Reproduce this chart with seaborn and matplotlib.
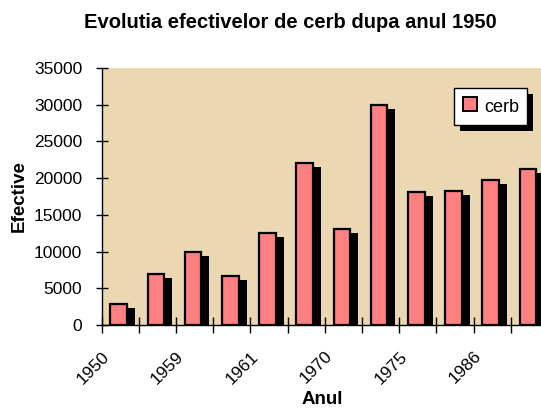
import matplotlib
matplotlib.use("Agg")
import matplotlib.pyplot as plt
import matplotlib.transforms as mtransforms
from matplotlib.lines import Line2D
import numpy as np
import pandas as pd
import seaborn as sns

# ===========================
# DATA
# ===========================
bar_index = list(range(12))
efective = [2800, 7000, 10000, 6700, 12500, 22000, 13100, 30000, 18100, 18300, 19700, 21200]
tick_years = ["1950", "1959", "1961", "1970", "1975", "1986"]
series_name = "cerb"

df = pd.DataFrame({"idx": bar_index, "efective": efective})

# ===========================
# STYLE
# ===========================
sns.set_style("ticks")
plt.rcParams["font.family"] = ["Liberation Sans", "DejaVu Sans"]
for key in ["text.color", "axes.labelcolor", "xtick.color", "ytick.color", "axes.edgecolor"]:
    plt.rcParams[key] = "black"

BAR_COLOR = "#FF8080"
BG_COLOR = "#EBD8B3"

fig = plt.figure(figsize=(5.41, 4.09), dpi=100)
fig.patch.set_facecolor("white")
ax = fig.add_axes([0.188, 0.2054, 0.812, 0.6284])
ax.set_facecolor(BG_COLOR)

# shadow bars (drawn first, shifted right/down in pixels)
sns.barplot(data=df, x="idx", y="efective", color="black", width=0.45,
            saturation=1, ax=ax, zorder=1, linewidth=0)
shift = mtransforms.ScaledTranslation(8 / 100, -4 / 100, fig.dpi_scale_trans)
for p in ax.patches:
    p.set_transform(ax.transData + shift)
    p.set_facecolor("black")
n_shadow = len(ax.patches)

# main bars
sns.barplot(data=df, x="idx", y="efective", color=BAR_COLOR, width=0.45,
            saturation=1, ax=ax, zorder=2, edgecolor="black", linewidth=1.6)
for p in ax.patches[n_shadow:]:
    p.set_facecolor(BAR_COLOR)

# ===========================
# AXES
# ===========================
off = 0.457
ax.set_xlim(-off, -off + 11.81)
ax.set_ylim(0, 35000)
ax.set_yticks(np.arange(0, 35001, 5000))
ax.set_xticks([i - off for i in range(12)])
ax.set_xticklabels([tick_years[i // 2] if i % 2 == 0 else "" for i in range(12)],
                   rotation=45, ha="right", rotation_mode="anchor", fontsize=12.5)
ax.tick_params(axis="y", labelsize=12.5, direction="inout", length=8, width=1, pad=10)
ax.tick_params(axis="x", direction="inout", length=12, width=1, pad=11)

for s in ["top", "right"]:
    ax.spines[s].set_visible(False)
ax.spines["left"].set_linewidth(1)
ax.spines["bottom"].set_linewidth(1)

ax.set_xlabel("Anul", fontsize=13.5, fontweight="bold")
ax.set_ylabel("Efective", fontsize=13.5, fontweight="bold")
ax.xaxis.set_label_coords(0.5015, -0.258)
ax.yaxis.set_label_coords(-0.168, 0.5)
fig.text(0.536, 0.945, "Evolutia efectivelor de cerb dupa anul 1950",
         ha="center", va="center", fontsize=14.5, fontweight="bold")

handles = [Line2D([], [], marker="s", markersize=10, linestyle="none",
                  markerfacecolor=BAR_COLOR, markeredgecolor="black",
                  markeredgewidth=1.4)]
leg = ax.legend(handles, [series_name], loc="upper left",
                bbox_to_anchor=(0.802, 0.922), borderaxespad=0, fontsize=13,
                frameon=True, fancybox=False, shadow=False,
                framealpha=1, edgecolor="black", handlelength=0.9,
                handleheight=1.35, handletextpad=0.3, borderpad=0.45)
leg.get_frame().set_linewidth(1)
leg.set_zorder(5)

# legend drop shadow
fig.canvas.draw()
bb = leg.get_window_extent()
ax.add_patch(plt.Rectangle((bb.x0 + 6, bb.y0 - 6), bb.width, bb.height,
                           transform=mtransforms.IdentityTransform(),
                           facecolor="black", edgecolor="none",
                           zorder=4, clip_on=False))

fig.savefig("out.png", dpi=100, facecolor="white")
